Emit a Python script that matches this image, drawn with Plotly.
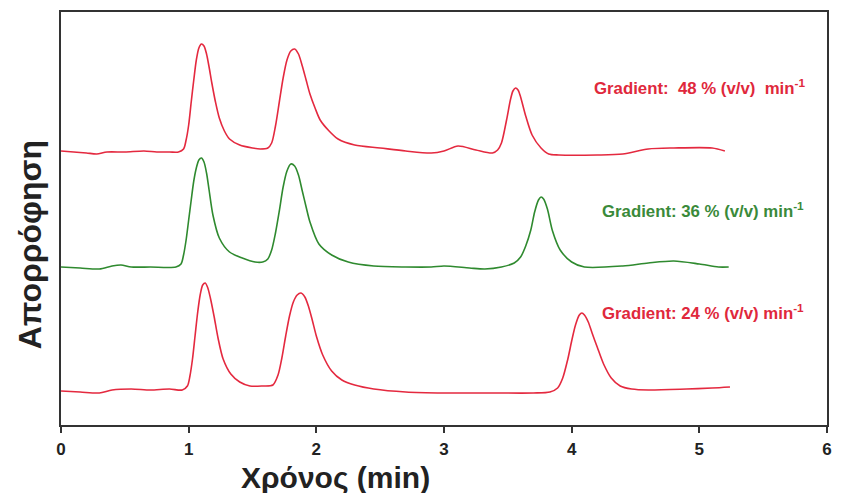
import plotly.graph_objects as go

# ---- data (time in min, signal above each trace's own baseline, a.u.) ----
t_48 = [0.00, 0.10, 0.20, 0.28, 0.36, 0.50, 0.65, 0.75, 0.85, 0.92, 0.96, 0.98, 1.00, 1.02,
        1.04, 1.06, 1.08, 1.10, 1.12, 1.14, 1.16, 1.18, 1.21, 1.24, 1.28, 1.32, 1.40, 1.50,
        1.56, 1.62, 1.65, 1.68, 1.71, 1.74, 1.77, 1.80, 1.83, 1.86, 1.89, 1.92, 1.95, 1.99,
        2.03, 2.10, 2.17, 2.30, 2.50, 2.70, 2.90, 3.00, 3.11, 3.25, 3.38, 3.42, 3.45, 3.49,
        3.52, 3.54, 3.56, 3.58, 3.60, 3.64, 3.69, 3.76, 3.82, 3.90, 4.20, 4.40, 4.60, 4.80,
        5.10, 5.20]
s_48 = [0.01, 0.00, -0.01, -0.02, 0.00, 0.00, 0.01, 0.00, 0.00, 0.00, 0.03, 0.12, 0.27, 0.50,
        0.72, 0.92, 1.04, 1.08, 1.06, 0.98, 0.85, 0.70, 0.50, 0.34, 0.21, 0.13, 0.07, 0.04,
        0.03, 0.04, 0.09, 0.26, 0.50, 0.74, 0.92, 1.01, 1.03, 0.98, 0.86, 0.72, 0.58, 0.44,
        0.32, 0.21, 0.13, 0.07, 0.04, 0.01, -0.01, 0.01, 0.06, 0.02, -0.01, 0.02, 0.09, 0.32,
        0.52, 0.61, 0.64, 0.62, 0.55, 0.36, 0.17, 0.04, -0.02, -0.03, -0.03, -0.02, 0.03, 0.04,
        0.04, 0.01]

t_36 = [0.00, 0.15, 0.30, 0.40, 0.47, 0.55, 0.70, 0.90, 0.94, 0.96, 0.98, 1.00, 1.02, 1.04,
        1.06, 1.08, 1.10, 1.12, 1.14, 1.16, 1.19, 1.24, 1.32, 1.42, 1.52, 1.58, 1.62, 1.65,
        1.68, 1.71, 1.74, 1.77, 1.80, 1.83, 1.86, 1.89, 1.92, 1.95, 2.02, 2.12, 2.25, 2.45,
        2.70, 2.90, 3.00, 3.20, 3.32, 3.45, 3.55, 3.60, 3.64, 3.68, 3.71, 3.74, 3.76, 3.78,
        3.81, 3.85, 3.91, 4.00, 4.10, 4.40, 4.60, 4.80, 5.00, 5.15, 5.23]
s_36 = [0.00, -0.01, -0.02, 0.01, 0.02, 0.00, 0.00, 0.00, 0.03, 0.12, 0.27, 0.47, 0.67, 0.86,
        0.99, 1.07, 1.09, 1.05, 0.94, 0.77, 0.52, 0.29, 0.15, 0.09, 0.05, 0.05, 0.08, 0.17,
        0.34, 0.56, 0.80, 0.96, 1.03, 1.01, 0.92, 0.76, 0.60, 0.45, 0.23, 0.12, 0.05, 0.01,
        0.00, 0.00, 0.01, -0.01, -0.02, 0.00, 0.04, 0.10, 0.21, 0.37, 0.55, 0.67, 0.70, 0.68,
        0.58, 0.36, 0.17, 0.05, 0.00, 0.01, 0.04, 0.06, 0.03, 0.00, 0.00]

t_24 = [0.00, 0.15, 0.30, 0.40, 0.55, 0.70, 0.85, 0.95, 0.99, 1.01, 1.03, 1.05, 1.07, 1.09,
        1.11, 1.13, 1.15, 1.17, 1.20, 1.23, 1.27, 1.33, 1.40, 1.48, 1.58, 1.66, 1.70, 1.73,
        1.76, 1.79, 1.82, 1.85, 1.88, 1.91, 1.94, 1.97, 2.00, 2.05, 2.12, 2.20, 2.30, 2.45,
        2.70, 3.00, 3.40, 3.70, 3.83, 3.89, 3.93, 3.97, 4.00, 4.03, 4.06, 4.08, 4.10, 4.13,
        4.16, 4.20, 4.25, 4.31, 4.38, 4.47, 4.60, 4.90, 5.10, 5.24]
s_24 = [0.00, -0.01, -0.02, 0.01, 0.02, 0.01, 0.02, 0.01, 0.05, 0.15, 0.32, 0.55, 0.78, 0.96,
        1.06, 1.08, 1.03, 0.93, 0.74, 0.53, 0.32, 0.17, 0.09, 0.05, 0.05, 0.06, 0.16, 0.33,
        0.55, 0.75, 0.89, 0.96, 0.98, 0.94, 0.84, 0.70, 0.55, 0.36, 0.20, 0.11, 0.06, 0.02,
        -0.01, -0.02, -0.02, -0.02, -0.01, 0.03, 0.13, 0.32, 0.50, 0.66, 0.76, 0.78, 0.76, 0.69,
        0.58, 0.44, 0.27, 0.13, 0.05, 0.02, 0.01, 0.02, 0.03, 0.04]

labels = ["Gradient:  48 % (v/v)  min<sup>-1</sup>",
          "Gradient: 36 % (v/v) min<sup>-1</sup>",
          "Gradient: 24 % (v/v) min<sup>-1</sup>"]
x_ticks = [0, 1, 2, 3, 4, 5, 6]

# ---- styling / stacking ----
offsets = [2.73, 1.58, 0.34]
line_colors = ["#e4293f", "#2f8a2f", "#e4293f"]
text_colors = ["#e0283c", "#3a8a3a", "#e0283c"]
label_pos = [(4.16, 3.38), (4.22, 2.15), (4.22, 1.13)]
FONT = "Liberation Sans, Arial, sans-serif"

series = [(t_48, s_48), (t_36, s_36), (t_24, s_24)]

fig = go.Figure()
for (t, s), off, col in zip(series, offsets, line_colors):
    fig.add_trace(go.Scatter(
        x=t, y=[v + off for v in s], mode="lines",
        line=dict(color=col, width=1.6, shape="spline", smoothing=0.8),
        showlegend=False, hoverinfo="skip"))

for lab, (lx, ly), col in zip(labels, label_pos, text_colors):
    fig.add_annotation(x=lx, y=ly, text="<b>" + lab + "</b>", showarrow=False,
                       xanchor="left", yanchor="middle",
                       font=dict(family=FONT, size=16.8, color=col))

fig.add_annotation(x=0.358, y=-0.127, xref="paper", yref="paper",
                   text="<b>Χρόνος (min)</b>", showarrow=False,
                   xanchor="center", yanchor="middle",
                   font=dict(family=FONT, size=30, color="#222"))
fig.add_annotation(x=-0.04, y=0.436, xref="paper", yref="paper",
                   text="<b>Απορρόφηση</b>", showarrow=False, textangle=-90,
                   xanchor="center", yanchor="middle",
                   font=dict(family=FONT, size=32, color="#222"))

fig.update_xaxes(range=[0, 6], tickvals=x_ticks, ticktext=[str(v) for v in x_ticks],
                 ticks="outside", ticklen=6, tickwidth=1.5, tickcolor="#333",
                 ticklabelstandoff=2,
                 showline=True, linecolor="#333", linewidth=1.5, mirror=True,
                 showgrid=False, zeroline=False,
                 tickfont=dict(family=FONT, size=17, color="#222", weight="bold"))
fig.update_yaxes(range=[0, 4.13], showticklabels=False, ticks="",
                 showline=True, linecolor="#333", linewidth=1.5, mirror=True,
                 showgrid=False, zeroline=False)

fig.update_layout(width=841, height=493, autosize=False,
                  margin=dict(l=61, r=9, t=12, b=68),
                  plot_bgcolor="white", paper_bgcolor="white",
                  font=dict(family=FONT))

fig.write_html("out.html")
